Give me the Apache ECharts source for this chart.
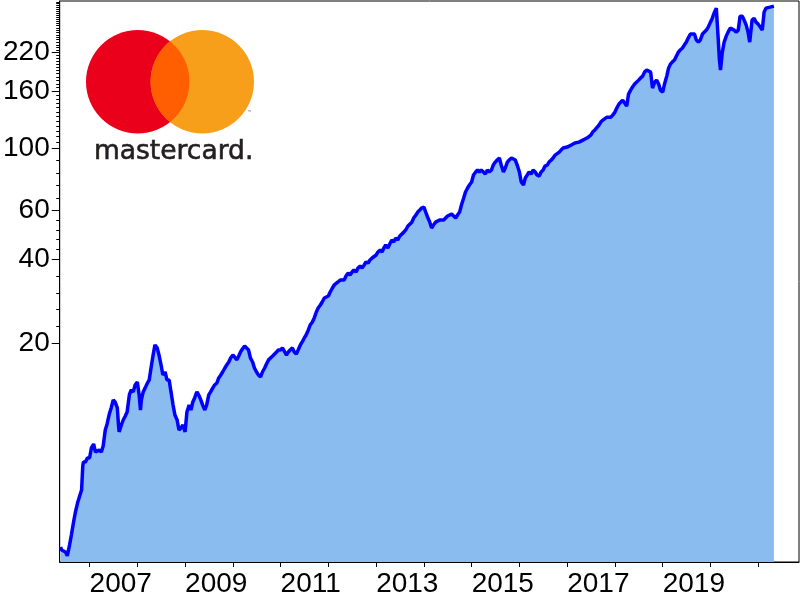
<!DOCTYPE html>
<html><head><meta charset="utf-8">
<script src="https://cdn.jsdelivr.net/npm/echarts@6/dist/echarts.min.js"></script>
<style>html,body{margin:0;padding:0;background:#fff}#c{width:800px;height:600px}</style>
</head><body><div id="c"></div>
<script>
const dates = [
'2006-05-25','2006-06-01','2006-06-15','2006-07-01','2006-07-15','2006-08-01','2006-08-15','2006-09-01','2006-09-15','2006-10-01','2006-10-15','2006-11-01','2006-11-10','2006-11-15','2006-12-01','2006-12-15',
'2007-01-01','2007-01-15','2007-02-01','2007-02-15','2007-03-01','2007-03-15','2007-04-01','2007-04-15','2007-05-01','2007-05-15','2007-06-01','2007-06-15','2007-07-01','2007-07-15','2007-08-01','2007-08-10','2007-08-15','2007-09-01','2007-09-15','2007-10-01','2007-10-15','2007-11-01','2007-11-15','2007-12-01','2007-12-15',
'2008-01-01','2008-01-15','2008-01-25','2008-02-01','2008-02-15','2008-03-01','2008-03-15','2008-04-01','2008-04-15','2008-05-01','2008-05-15','2008-06-01','2008-06-15','2008-07-01','2008-07-15','2008-08-01','2008-08-15','2008-09-01','2008-09-15','2008-10-01','2008-10-15','2008-11-01','2008-11-15','2008-12-01','2008-12-15',
'2009-01-01','2009-01-15','2009-02-01','2009-02-15','2009-03-01','2009-03-15','2009-04-01','2009-04-15','2009-05-01','2009-05-15','2009-06-01','2009-06-15','2009-07-01','2009-07-15','2009-08-01','2009-08-15','2009-09-01','2009-09-15','2009-10-01','2009-10-15','2009-11-01','2009-11-15','2009-12-01','2009-12-15',
'2010-01-01','2010-01-15','2010-02-01','2010-02-15','2010-03-01','2010-03-15','2010-04-01','2010-04-15','2010-05-01','2010-05-15','2010-06-01','2010-06-15','2010-07-01','2010-07-15','2010-08-01','2010-08-15','2010-09-01','2010-09-15','2010-10-01','2010-10-15','2010-11-01','2010-11-15','2010-12-01','2010-12-15',
'2011-01-01','2011-01-15','2011-02-01','2011-02-15','2011-03-01','2011-03-15','2011-04-01','2011-04-15','2011-05-01','2011-05-15','2011-06-01','2011-06-15','2011-07-01','2011-07-15','2011-08-01','2011-08-15','2011-09-01','2011-09-15','2011-10-01','2011-10-15','2011-11-01','2011-11-15','2011-12-01','2011-12-15',
'2012-01-01','2012-01-15','2012-02-01','2012-02-15','2012-03-01','2012-03-15','2012-04-01','2012-04-15','2012-05-01','2012-05-15','2012-06-01','2012-06-15','2012-07-01','2012-07-15','2012-08-01','2012-08-15','2012-09-01','2012-09-15','2012-10-01','2012-10-15','2012-11-01','2012-11-15','2012-12-01','2012-12-15',
'2013-01-01','2013-01-15','2013-02-01','2013-02-15','2013-03-01','2013-03-15','2013-04-01','2013-04-15','2013-05-01','2013-05-15','2013-06-01','2013-06-15','2013-07-01','2013-07-15','2013-08-01','2013-08-15','2013-09-01','2013-09-15','2013-10-01','2013-10-15','2013-11-01','2013-11-15','2013-12-01','2013-12-15',
'2014-01-01','2014-01-15','2014-02-01','2014-02-15','2014-03-01','2014-03-15','2014-04-01','2014-04-15','2014-05-01','2014-05-15','2014-06-01','2014-06-15','2014-07-01','2014-07-15','2014-08-01','2014-08-15','2014-09-01','2014-09-15','2014-10-01','2014-10-15','2014-11-01','2014-11-15','2014-12-01','2014-12-15',
'2015-01-01','2015-01-15','2015-02-01','2015-02-15','2015-03-01','2015-03-15','2015-04-01','2015-04-15','2015-05-01','2015-05-15','2015-06-01','2015-06-15','2015-07-01','2015-07-15','2015-08-01','2015-08-15','2015-09-01','2015-09-15','2015-10-01','2015-10-15','2015-11-01','2015-11-15','2015-12-01','2015-12-15',
'2016-01-01','2016-01-15','2016-02-01','2016-02-15','2016-03-01','2016-03-15','2016-04-01','2016-04-15','2016-05-01','2016-05-15','2016-06-01','2016-06-15','2016-07-01','2016-07-15','2016-08-01','2016-08-15','2016-09-01','2016-09-15','2016-10-01','2016-10-15','2016-11-01','2016-11-15','2016-12-01','2016-12-15',
'2017-01-01','2017-01-15','2017-02-01','2017-02-15','2017-03-01','2017-03-15','2017-04-01','2017-04-15','2017-05-01','2017-05-15','2017-06-01','2017-06-15','2017-07-01','2017-07-15','2017-08-01','2017-08-15','2017-09-01','2017-09-15','2017-10-01','2017-10-15','2017-11-01','2017-11-15','2017-12-01','2017-12-15',
'2018-01-01','2018-01-15','2018-02-01','2018-02-15','2018-03-01','2018-03-15','2018-04-01','2018-04-15','2018-05-01','2018-05-15','2018-06-01','2018-06-15','2018-07-01','2018-07-15','2018-08-01','2018-08-15','2018-09-01','2018-09-15','2018-10-01','2018-10-15','2018-11-01','2018-11-15','2018-12-01','2018-12-15',
'2019-01-01','2019-01-15','2019-02-01','2019-02-15','2019-03-01','2019-03-15','2019-04-01','2019-04-15','2019-05-01','2019-05-15','2019-06-01','2019-06-15','2019-07-01','2019-07-15','2019-08-01','2019-08-15','2019-09-01','2019-09-15','2019-10-01','2019-10-15','2019-11-01','2019-11-15','2019-12-01','2019-12-15',
'2020-01-01','2020-01-15','2020-02-01','2020-02-15','2020-02-22','2020-03-01','2020-03-10','2020-03-18','2020-04-01','2020-04-15','2020-05-01','2020-05-15','2020-06-01','2020-06-15','2020-07-01','2020-07-15','2020-08-01','2020-08-15','2020-09-01','2020-09-15','2020-10-01','2020-10-15','2020-10-28','2020-11-15','2020-12-01','2020-12-15',
'2021-01-01','2021-01-15','2021-02-01','2021-02-15','2021-03-01','2021-03-15','2021-04-01','2021-04-15','2021-05-01'
];
const prices = [
3.72,3.63,3.69,3.57,3.46,3.78,4.11,4.58,4.97,5.35,5.62,5.96,7.26,7.51,7.51,7.76,
7.76,8.43,8.71,8.15,8.15,8.29,8.15,8.57,9.78,10.28,11.16,11.73,12.53,12.32,11.73,10.19,9.62,10.19,10.62,10.97,11.34,13.06,13.61,13.39,14.18,
14.54,13.06,11.53,12.53,13.39,13.84,14.30,14.78,16.31,18.16,19.73,19.25,18.16,16.72,15.40,15.78,14.78,14.78,13.39,12.02,11.06,10.62,9.78,9.94,10.19,
9.62,11.34,12.02,11.53,12.32,12.74,13.39,13.06,12.53,12.02,11.53,12.02,13.06,13.39,13.84,14.18,14.41,15.03,15.40,15.78,16.31,16.72,17.14,17.72,
18.16,18.46,17.44,18.01,18.62,19.08,19.56,19.73,18.93,17.72,17.14,16.31,15.78,15.40,15.15,15.78,16.31,16.86,17.44,17.72,18.01,17.72,18.62,18.93,
18.93,19.25,18.62,18.16,18.62,18.93,19.25,18.62,18.31,18.93,19.73,20.22,20.9,21.42,22.33,23.26,23.84,24.65,25.89,26.77,27.44,28.12,29.07,28.6,
29.55,30.54,31.57,32.36,32.89,33.17,33.73,34.29,33.73,34.85,35.72,35.13,36.01,36.63,36.01,37.23,37.85,37.23,38.16,39.12,38.8,39.78,40.44,41.1,
41.45,42.47,43.2,42.47,43.91,45.0,43.91,45.38,46.9,46.13,47.69,46.9,48.48,47.69,50.05,50.95,52.65,53.5,54.35,56.24,57.64,59.05,60.08,61.08,
61.6,59.05,56.24,54.35,51.79,53.08,54.35,53.5,55.33,56.24,55.33,56.24,57.17,56.24,58.1,57.64,56.24,57.64,59.05,62.6,66.34,69.69,72.05,73.84,
75.68,80.2,82.2,83.57,82.2,83.57,82.2,80.83,83.57,82.2,83.57,87.07,89.25,90.74,92.26,87.07,82.2,84.96,89.25,90.74,92.26,93.02,90.74,87.07,
82.2,75.68,73.84,78.23,80.2,82.2,80.83,83.57,82.2,80.2,79.5,82.2,83.57,86.35,87.07,89.25,90.74,92.26,94.56,96.12,96.92,98.54,100.2,101.0,
101.0,101.9,102.7,103.6,104.4,104.4,105.2,106.1,107.0,107.0,108.8,109.7,111.5,114.3,116.3,118.2,121.1,124.1,126.2,128.3,129.3,128.3,129.3,131.5,
134.8,139.4,144.1,146.4,148.8,146.4,141.6,156.4,161.6,165.7,169.9,172.6,175.5,178.5,181.4,187.5,190.7,193.8,187.5,164.3,172.6,175.5,169.9,161.6,
159.0,169.9,181.4,193.8,200.3,203.7,207.1,213.8,221.2,225.0,228.7,234.3,240.2,248.3,256.7,260.8,256.7,244.2,240.2,244.2,256.7,260.8,265.2,271.8,
283.2,292.6,307.6,317.9,312.7,244.2,207.1,190.7,221.2,240.2,252.3,260.8,269.6,269.6,265.2,260.8,265.2,297.1,297.1,288.0,276.3,260.8,240.2,288.0,292.6,283.2,
278.6,278.6,265.2,307.6,317.9,315.3,320.6,323.3,323.3
];
const yearTicks = [2007,2008,2009,2010,2011,2012,2013,2014,2015,2016,2017,2018,2019,2020,2021];
const yearLabels = [2007,2009,2011,2013,2015,2017,2019];
const yMajorTicks = [20,40,60,100,160,220];
const yMinorLogSplit = [[20,40],[40,60],[60,100]];
const yMinorLinear = [105,110,115,120,125,130,135,140,145,150,155,165,170,175,180,185,190,195,200,205,210,215,225,230,235,240,245,250,255,260,265,270,275,280,285,290,295,300,305,310,315,320,325,330,335];

const yMinorTicks = [];
yMinorLogSplit.forEach(([a,b]) => { for (let k=1;k<5;k++) yMinorTicks.push(a*Math.pow(b/a,k/5)); });
yMinorLinear.forEach(v => yMinorTicks.push(v));

function decYear(s){
  const p = s.split('-').map(Number);
  const t0 = Date.UTC(p[0],0,1), t1 = Date.UTC(p[0]+1,0,1);
  return p[0] + (Date.UTC(p[0],p[1]-1,p[2]) - t0)/(t1 - t0);
}
const seriesData = dates.map((d,i) => [decYear(d), prices[i]]);

// logo geometry: lens where the two circles overlap
const C1 = [137.7, 81.7], C2 = [202.3, 81.7], R = 51.7;
const th = Math.acos(((C2[0]-C1[0])/2)/R);
const lens = [];
for (let i=0;i<=40;i++){ const a = -th + 2*th*i/40; lens.push([C1[0]+R*Math.cos(a), C1[1]+R*Math.sin(a)]); }
for (let i=0;i<=40;i++){ const a = Math.PI - th + 2*th*i/40; lens.push([C2[0]+R*Math.cos(a), C2[1]+R*Math.sin(a)]); }

const chart = echarts.init(document.getElementById('c'), null, {renderer:'canvas'});
const YMIN = 3.289, YMAX = 337.2;
const axisFont = {fontFamily:'"Liberation Sans", Arial, sans-serif', fontSize:28, color:'#000'};
chart.setOption({
  animation:false,
  backgroundColor:'#fff',
  grid:{left:56, right:1, top:1, bottom:38, show:true, borderColor:'#000', borderWidth:1, backgroundColor:'transparent'},
  xAxis:{
    type:'value', min:2006.375, max:2021.854,
    axisLine:{show:true, lineStyle:{color:'#000', width:1}},
    axisTick:{show:true, customValues:yearTicks, length:5, lineStyle:{color:'#000'}},
    axisLabel:Object.assign({customValues:yearLabels, align:'left', margin:8, formatter:v=>String(Math.round(v))}, axisFont),
    splitLine:{show:false}
  },
  yAxis:[{
    type:'log', logBase:10, min:YMIN, max:YMAX, position:'left',
    axisLine:{show:true, lineStyle:{color:'#000', width:1}},
    axisTick:{show:true, customValues:yMajorTicks, length:8, lineStyle:{color:'#000'}},
    axisLabel:Object.assign({customValues:yMajorTicks, margin:10, formatter:v=>String(Math.round(v))}, axisFont),
    splitLine:{show:false}, minorTick:{show:false}
  },{
    type:'log', logBase:10, min:YMIN, max:YMAX, position:'left', offset:0,
    axisLine:{show:false},
    axisTick:{show:true, customValues:yMinorTicks, length:3.5, lineStyle:{color:'#000'}},
    axisLabel:{show:false},
    splitLine:{show:false}
  }],
  series:[{
    type:'line', data:seriesData, yAxisIndex:0, showSymbol:false, symbol:'none',
    lineStyle:{color:'#0000ff', width:3.5},
    areaStyle:{color:'#8bbcf0', opacity:1, origin:'start'},
    silent:true
  }],
  graphic:[
    {type:'circle', shape:{cx:C1[0], cy:C1[1], r:R}, style:{fill:'#eb001b'}, z:100},
    {type:'circle', shape:{cx:C2[0], cy:C2[1], r:R}, style:{fill:'#f79e1b'}, z:101},
    {type:'polygon', shape:{points:lens}, style:{fill:'#ff5f00'}, z:102},
    {type:'text', z:103, style:{text:'mastercard.', x:94, y:152, fontFamily:'"DejaVu Sans"', fontSize:26.5, fill:'#231f20', stroke:'#231f20', lineWidth:0.6, textAlign:'left', verticalAlign:'middle', textVerticalAlign:'middle'}},
    {type:'text', z:103, style:{text:'™', x:247, y:113, fontFamily:'"DejaVu Sans"', fontSize:5, fill:'#555', textAlign:'left', verticalAlign:'middle'}}
  ]
});
</script></body></html>
